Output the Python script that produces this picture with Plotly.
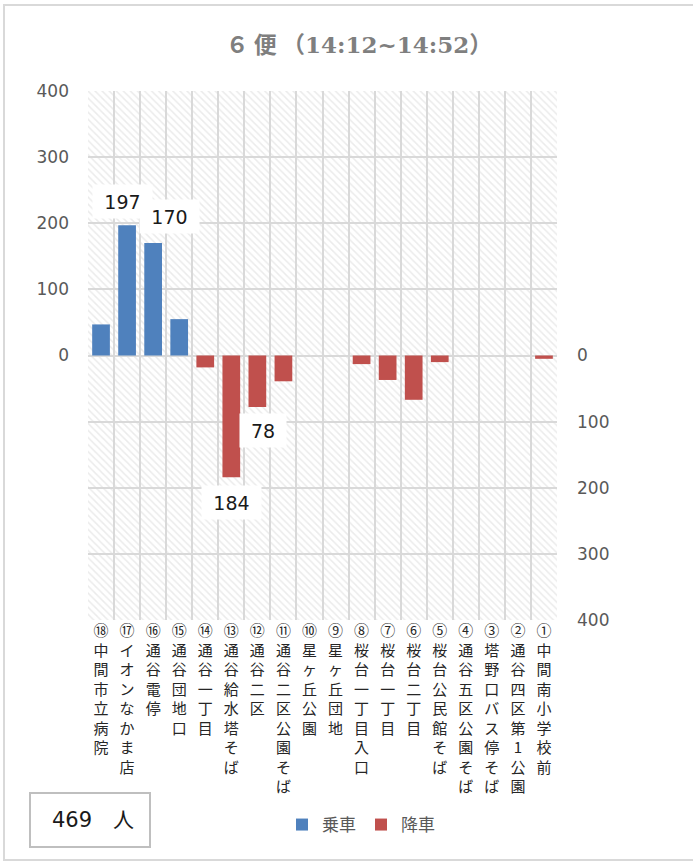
import plotly.graph_objects as go

# ---------------- data ----------------
stop_nums = ["⑱", "⑰", "⑯", "⑮", "⑭", "⑬", "⑫", "⑪", "⑩", "⑨",
             "⑧", "⑦", "⑥", "⑤", "④", "③", "②", "①"]
stop_names = [
    "中間市立病院", "イオンなかま店", "通谷電停", "通谷団地口",
    "通谷一丁目", "通谷給水塔そば", "通谷二区", "通谷二区公園そば",
    "星ヶ丘公園", "星ヶ丘団地", "桜台一丁目入口", "桜台一丁目",
    "桜台二丁目", "桜台公民館そば", "通谷五区公園そば", "塔野口バス停そば",
    "通谷四区第1公園", "中間南小学校前",
]
boarding = [47, 197, 170, 55, 0, 0, 0, 0, 0, 0, 0, 0, 0, 0, 0, 0, 0, 0]
alighting = [0, 0, 0, 0, 18, 184, 78, 39, 0, 0, 13, 37, 67, 10, 0, 0, 0, 5]
total_people = 469
title_run = "６ 便"
title_time = "14:12~14:52"
axis_max = 400
axis_step = 100

# labelled bars: (series, stop index) -> pixel offsets
labelled = [("board", 1, -5, 24), ("board", 2, 16, 27),
            ("alight", 6, 6, -23), ("alight", 5, 0, -25)]

# ---------------- styling ----------------
BLUE = "#4F81BD"
RED = "#C0504D"
GRID = "#d9d9d9"
W, H = 693, 862
L, R, T, B = 88, 136, 91, 242
PW, PH = W - L - R, H - T - B


def px(xp):
    return (xp - L) / PW


def py(yp):
    return (H - B - yp) / PH


vert = ["<br>".join([n] + list(s)) for n, s in zip(stop_nums, stop_names)]
ticks_all = list(range(-axis_max, axis_max + 1, axis_step))

fig = go.Figure()

# hatched background
fig.add_trace(go.Bar(
    x=vert, y=[2 * axis_max] * len(vert), base=-axis_max, width=1,
    marker=dict(color="rgba(0,0,0,0)", line=dict(width=0),
                pattern=dict(shape="\\", fgcolor="#d8d8d8", bgcolor="rgba(0,0,0,0)",
                             size=5, solidity=0.3, fillmode="overlay")),
    showlegend=False, hoverinfo="skip", yaxis="y",
))
fig.add_trace(go.Bar(
    x=vert, y=boarding, name="乗車", width=0.68,
    marker=dict(color=BLUE, line=dict(width=0)), yaxis="y",
))
fig.add_trace(go.Bar(
    x=vert, y=alighting, name="降車", width=0.68,
    marker=dict(color=RED, line=dict(width=0)), yaxis="y2",
))

annotations = []
for series, i, dx, dy in labelled:
    val = boarding[i] if series == "board" else alighting[i]
    txt = str(val)
    annotations.append(dict(
        x=vert[i], y=val, xref="x", yref="y" if series == "board" else "y2",
        text=txt, showarrow=False, xshift=dx, yshift=dy,
        bgcolor="white", width=int(19 + 12.7 * len(txt)), height=31,
        font=dict(family="DejaVu Sans", size=19, color="#1a1a1a"),
    ))

annotations.append(dict(
    x=px(93), y=py(820), xref="paper", yref="paper",
    xanchor="center", yanchor="middle",
    text=f"{total_people}　人", showarrow=False,
    font=dict(family="DejaVu Sans, Noto Sans CJK JP", size=21, color="#1a1a1a"),
))

shapes = [
    dict(type="rect", xref="paper", yref="paper",
         x0=px(4), x1=px(700), y0=py(860), y1=py(5),
         line=dict(color=GRID, width=2), layer="below"),
    dict(type="rect", xref="paper", yref="paper",
         x0=px(30), x1=px(150), y0=py(847), y1=py(793),
         line=dict(color="#bfbfbf", width=2)),
]

fig.update_layout(
    width=W, height=H,
    margin=dict(l=L, r=R, t=T, b=B),
    paper_bgcolor="white", plot_bgcolor="white",
    barmode="overlay",
    title=dict(
        text=(f'<span style="font-family:Noto Sans CJK JP">{title_run} （</span>'
              f'<span style="font-family:DejaVu Serif">{title_time}</span>'
              f'<span style="font-family:Noto Sans CJK JP">）</span>'),
        x=359 / W, xanchor="center", y=1 - 45 / H, yanchor="middle",
        font=dict(size=23, color="#7f7f7f", weight="bold"),
    ),
    xaxis=dict(
        type="category", categoryorder="array", categoryarray=vert,
        range=[-0.5, len(vert) - 0.5], tickson="boundaries",
        showgrid=True, gridcolor=GRID, gridwidth=2, ticks="",
        showline=False, zeroline=False,
        tickfont=dict(family="Noto Sans CJK JP", size=15, color="#262626"),
        tickangle=0,
    ),
    yaxis=dict(
        range=[-axis_max, axis_max], tickvals=ticks_all,
        ticktext=["" if v < 0 else str(v) for v in ticks_all],
        showgrid=True, gridcolor=GRID, gridwidth=2, zeroline=False,
        showline=False, ticks="", ticklabelstandoff=18,
        tickfont=dict(family="DejaVu Sans", size=17, color="#595959"),
    ),
    yaxis2=dict(
        overlaying="y", side="right", range=[axis_max, -axis_max],
        tickvals=list(range(0, axis_max + 1, axis_step)),
        showgrid=False, zeroline=False, showline=False, ticks="",
        ticklabelstandoff=19,
        tickfont=dict(family="DejaVu Sans", size=17, color="#595959"),
    ),
    legend=dict(
        orientation="h", x=px(361), xanchor="center", y=py(825), yanchor="middle",
        font=dict(family="Noto Sans CJK JP", size=17, color="#595959"),
        bgcolor="rgba(0,0,0,0)", itemwidth=30,
    ),
    annotations=annotations,
    shapes=shapes,
    showlegend=True,
)

fig.write_html("out.html", config={"displayModeBar": False},
               post_script="document.body.style.margin='0px';")
